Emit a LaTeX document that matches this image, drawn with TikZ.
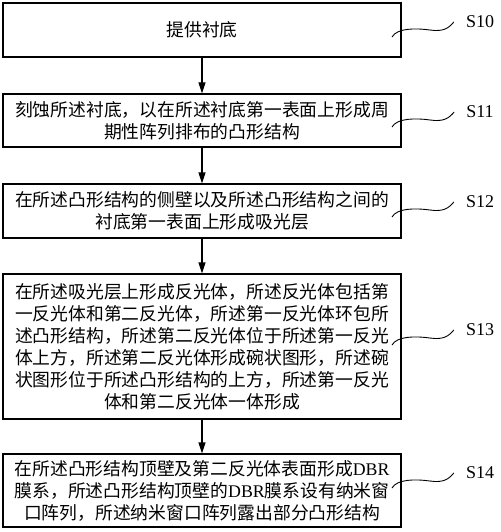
\documentclass[tikz,border=0pt]{standalone}
\usepackage{fontspec}
\setmainfont{Liberation Serif}
\newfontfamily\cjk{Noto Sans CJK SC}
\usetikzlibrary{arrows.meta}
\tikzset{
  stepbox/.style={draw, line width=1.1pt, minimum width=398pt, align=center, inner sep=0pt,
    font=\cjk\fontsize{17.8}{22}\selectfont},
  lbl/.style={inner sep=0pt, font=\fontsize{18}{20}\selectfont},
  wave/.style={line width=0.9pt},
  flow/.style={line width=1.1pt, -{Triangle[length=11pt,width=7pt]}}
}

\begin{document}
\begin{tikzpicture}[x=1pt,y=1pt]
\useasboundingbox (0,0) rectangle (500,-532);
% steps
\node[stepbox, minimum height=54pt] (b10) at (202,-30) {提供衬底};
\node[stepbox, minimum height=53pt] (b11) at (202,-120.5)
  {刻蚀所述衬底，以在所述衬底第一表面上形成周\\期性阵列排布的凸形结构};
\node[stepbox, minimum height=54pt] (b12) at (202,-211)
  {在所述凸形结构的侧壁以及所述凸形结构之间的\\衬底第一表面上形成吸光层};
\node[stepbox, minimum height=145pt] (b13) at (202,-346.5)
  {在所述吸光层上形成反光体，所述反光体包括第\\一反光体和第二反光体，所述第一反光体环包所\\述凸形结构，所述第二反光体位于所述第一反光\\体上方，所述第二反光体形成碗状图形，所述碗\\状图形位于所述凸形结构的上方，所述第一反光\\体和第二反光体一体形成};
\node[stepbox, minimum height=73pt] (b14) at (202,-490.5)
  {在所述凸形结构顶壁及第二反光体表面形成{\rmfamily DBR}\\膜系，所述凸形结构顶壁的{\rmfamily DBR}膜系设有纳米窗\\口阵列，所述纳米窗口阵列露出部分凸形结构};
% arrows
\draw[flow] (b10) -- (b11);
\draw[flow] (b11) -- (b12);
\draw[flow] (b12) -- (b13);
\draw[flow] (b13) -- (b14);
% step labels
\foreach \n/\y in {10/22, 11/112, 12/202, 13/330, 14/473} {
  \node[lbl] (s\n) at (480,-\y) {S\n};
  \coordinate (w\n) at (392,-\y-15);
  \draw[wave] (w\n) .. controls +(5,9) and +(-14,2) .. ([shift={(-36,-8)}]s\n.west)
    .. controls +(14,-2) and +(-5,-6) .. ([xshift=-12pt]s\n.west);
}
\end{tikzpicture}
\end{document}
